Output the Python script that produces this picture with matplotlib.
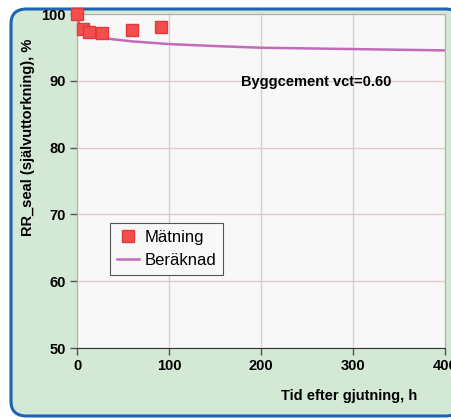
import matplotlib.pyplot as plt
from matplotlib.patches import FancyBboxPatch

plt.rcParams['font.family'] = ['Liberation Sans', 'DejaVu Sans']

# measured points
meas_t = [0, 6, 13, 27, 60, 91]
meas_rr = [100, 97.8, 97.3, 97.1, 97.6, 98.1]

# calculated curve
calc_t = [0, 1, 3, 6, 10, 15, 25, 40, 60, 100, 150, 200, 250, 300, 350, 400]
calc_rr = [100, 99.3, 98.3, 97.6, 97.1, 96.8, 96.5, 96.2, 95.9, 95.5, 95.2, 94.95, 94.85, 94.75, 94.65, 94.55]

xticks = [0, 100, 200, 300, 400]
yticks = [50, 60, 70, 80, 90, 100]

W, H = 451, 419
fig = plt.figure(figsize=(W / 100, H / 100), dpi=100)
fig.patch.set_facecolor('white')

# green rounded frame with blue border
frame = FancyBboxPatch((11 / W, 3 / H), 450 / W, 407 / H,
                       boxstyle='round,pad=0,rounding_size=0.035',
                       transform=fig.transFigure, facecolor='#d3e8d5',
                       edgecolor='#1f63b4', linewidth=2.2, zorder=-10)
fig.patches.append(frame)

ax = fig.add_axes([77 / W, 1 - 348 / H, 368 / W, 334 / H])
ax.set_facecolor('#f8f8f8')
ax.set_xlim(0, 400)
ax.set_ylim(50, 100)
ax.set_xticks(xticks)
ax.set_yticks(yticks)
ax.grid(True, color='#dccccf', linewidth=1)
ax.set_axisbelow(True)
for side in ['top', 'right', 'left']:
    ax.spines[side].set_color('#b0b0b0')
ax.spines['bottom'].set_color('#333333')
ax.tick_params(length=5, width=1, color='#555555', labelsize=10.5, pad=3)
for lab in ax.get_xticklabels() + ax.get_yticklabels():
    lab.set_fontweight('bold')

ax.plot(calc_t, calc_rr, color='#c26bba', linewidth=1.8, label='Beräknad', zorder=3)
ax.plot(meas_t, meas_rr, linestyle='none', marker='s', markersize=8,
        markerfacecolor='#f24e4e', markeredgecolor='#e03a3a', label='Mätning',
        clip_on=False, zorder=4)

handles, labels = ax.get_legend_handles_labels()
leg = ax.legend(handles[::-1], labels[::-1], loc='upper left',
                bbox_to_anchor=((110 - 77) / 368, (348 - 223) / 334),
                borderaxespad=0, fontsize=12, frameon=True, fancybox=False,
                framealpha=1, edgecolor='#555555', facecolor='#f8f8f8',
                handlelength=1.35, borderpad=0.4, labelspacing=0.5,
                handletextpad=0.3)
leg.get_frame().set_linewidth(0.8)

ax.text(0.445, 0.795, 'Byggcement vct=0.60', transform=ax.transAxes,
        fontsize=10.5, fontweight='bold', ha='left', va='center')

fig.text(28 / W, 1 - 137 / H, 'RR_seal (självuttorkning), %', rotation=90,
         fontsize=10.5, fontweight='bold', ha='center', va='center')
fig.text(349 / W, 1 - 396 / H, 'Tid efter gjutning, h',
         fontsize=10.5, fontweight='bold', ha='center', va='center')

fig.savefig('out.png', dpi=100)
